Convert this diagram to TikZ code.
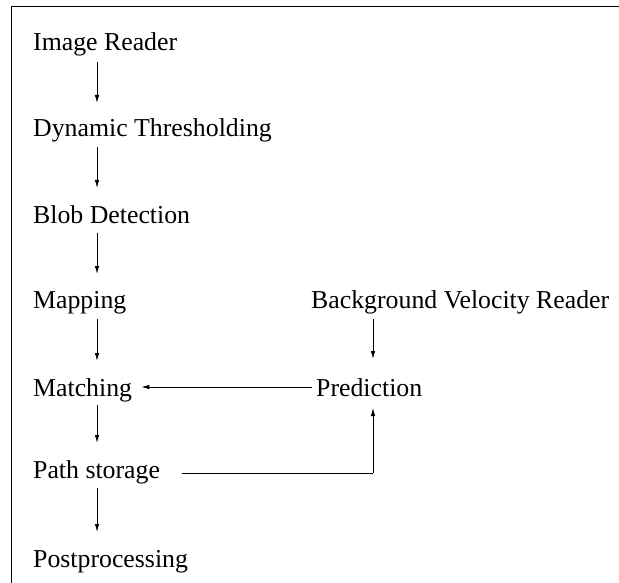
\documentclass[tikz,border=0pt]{standalone}
\usepackage{fontspec}
\setmainfont{Liberation Serif}
\usetikzlibrary{arrows.meta,calc}
\begin{document}
\begin{tikzpicture}[x=1pt,y=-1pt,
  lbl/.style={anchor=base west,inner sep=0pt,font=\fontsize{25.8}{31}\selectfont},
  conn/.style={line width=0.9pt,-{Latex[length=8pt,width=4.5pt]}},
  plain/.style={line width=0.9pt}]
\useasboundingbox (0,0) rectangle (619,583);
\draw[line width=1pt] (11,583) -- (11,7) -- (619,7);
\node[lbl] (ir) at (33,51) {Image Reader};
\node[lbl] (dt) at (33,137) {Dynamic Thresholding};
\node[lbl] (bd) at (33,223) {Blob Detection};
\node[lbl] (mp) at (33,308) {Mapping};
\node[lbl] (ma) at (33,396) {Matching};
\node[lbl] (ps) at (33,478) {Path storage};
\node[lbl] (pp) at (33,567) {Postprocessing};
\node[lbl] (bv) at (311,308) {Background Velocity Reader};
\node[lbl] (pr) at (316,396) {Prediction};
\draw[conn] ($(ir.base west)+(64,11)$) -- ($(dt.base west)+(64,-34)$);
\draw[conn] ($(dt.base west)+(64,10)$) -- ($(bd.base west)+(64,-35)$);
\draw[conn] ($(bd.base west)+(64,10)$) -- ($(mp.base west)+(64,-34)$);
\draw[conn] ($(mp.base west)+(64,11)$) -- ($(ma.base west)+(64,-35)$);
\draw[conn] ($(ma.base west)+(64,9)$) -- ($(ps.base west)+(64,-35)$);
\draw[conn] ($(ps.base west)+(64,10)$) -- ($(pp.base west)+(64,-35)$);
\draw[conn] ($(bv.base west)+(62,11)$) -- ($(pr.base west)+(57,-37)$);
\draw[conn] ($(pr.base west)+(-4,-9)$) -- ($(ma.base east)+(9,-9)$);
\coordinate (corner) at (373,473);
\draw[plain] ($(ps.base east)+(22,-5)$) -- (corner);
\draw[conn] (corner) -- ($(pr.base west)+(57,12)$);
\end{tikzpicture}
\end{document}
